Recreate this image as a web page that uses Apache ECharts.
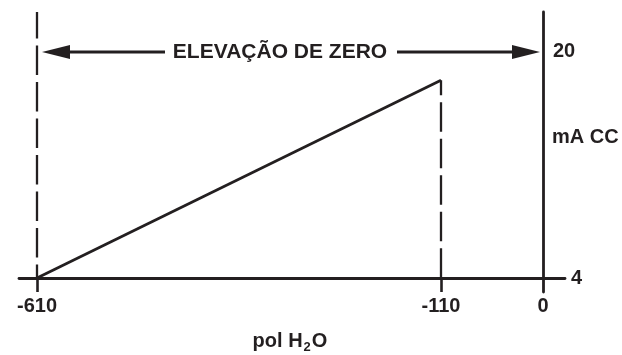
<!DOCTYPE html>
<html>
<head>
<meta charset="utf-8">
<script src="https://cdn.jsdelivr.net/npm/echarts@6/dist/echarts.min.js"></script>
<style>html,body{margin:0;padding:0;background:#fff;}#c{width:622px;height:355px;}</style>
</head>
<body>
<div id="c"></div>
<script>
// Data
const rampX = [-610, -110];        // pol H2O
const rampY = [4, 18];             // mA CC
const xLabelsLeft = [-610, -110];
const xLabelsRight = [0];
const yTicks = [4, 20];
const titleText = 'ELEVAÇÃO DE ZERO';
const yName = 'mA CC';

const INK = '#231f20';
const FONT = 'Liberation Sans, Arial, sans-serif';
const chart = echarts.init(document.getElementById('c'), null, {renderer: 'canvas'});

// y range: 4 sits on the x axis; a little room below it for the tick stubs
const yBase = 4, yMin = 3.009, yMax = 22.83;
const labelStyle = {color: INK, fontSize: 20, fontWeight: 'bold', fontFamily: FONT};
const dashStyle = {color: INK, width: 2.3, type: [29.5, 7]};
const tickStyle = {color: INK, width: 2.6, type: 'solid'};

const option = {
  animation: false,
  backgroundColor: '#fff',
  grid: [
    {left: 19, top: 12, width: 422, height: 280},
    {left: 441, top: 12, width: 124, height: 280}
  ],
  xAxis: [
    {
      gridIndex: 0, type: 'value', min: -632.28, max: -110, offset: -14,
      axisLine: {show: true, onZero: false, lineStyle: {color: INK, width: 2.8}},
      axisTick: {show: false},
      axisLabel: Object.assign({customValues: xLabelsLeft, margin: 18}, labelStyle),
      splitLine: {show: false}
    },
    {
      gridIndex: 1, type: 'value', min: -110, max: 23.73, offset: -14,
      axisLine: {show: true, onZero: false, lineStyle: {color: INK, width: 2.8}},
      axisTick: {show: false},
      axisLabel: Object.assign({customValues: xLabelsRight, margin: 18}, labelStyle),
      splitLine: {show: false}
    }
  ],
  yAxis: [
    {gridIndex: 0, type: 'value', min: yMin, max: yMax, show: false},
    {
      gridIndex: 1, type: 'value', min: yMin, max: yMax, position: 'right',
      axisLine: {show: true, onZero: true, lineStyle: {color: INK, width: 2.8}},
      axisTick: {show: false},
      splitLine: {show: false},
      axisLabel: {
        customValues: yTicks, margin: -12,
        formatter: v => v === 4 ? '{a|4}' : '{b|' + v + '}',
        rich: {
          a: Object.assign({padding: [0, 0, 0, 18]}, labelStyle),
          b: Object.assign({}, labelStyle)
        }
      }
    }
  ],
  series: [
    {
      type: 'line', xAxisIndex: 0, yAxisIndex: 0, clip: false,
      data: rampX.map((x, i) => [x, rampY[i]]),
      showSymbol: false, symbol: 'none',
      lineStyle: {color: INK, width: 2.8},
      markLine: {
        silent: true, symbol: ['none', 'none'],
        label: {show: false},
        data: [
          [{coord: [rampX[0], yMax], lineStyle: Object.assign({dashOffset: 3}, dashStyle)}, {coord: [rampX[0], yBase]}],
          [{coord: [rampX[1], rampY[1]], lineStyle: Object.assign({dashOffset: 14.5}, dashStyle)}, {coord: [rampX[1], yBase]}],
          [{coord: [rampX[0], yBase], lineStyle: tickStyle}, {coord: [rampX[0], yMin]}],
          [{coord: [rampX[1], yBase], lineStyle: tickStyle}, {coord: [rampX[1], yMin]}]
        ]
      }
    }
  ],
  graphic: [
    // arrow: left part
    {type: 'line', shape: {x1: 60, y1: 52, x2: 165, y2: 52}, style: {stroke: INK, lineWidth: 3}},
    {type: 'polygon', shape: {points: [[42, 52], [70, 45], [70, 59]]}, style: {fill: INK}},
    // arrow: right part
    {type: 'line', shape: {x1: 397, y1: 52, x2: 522, y2: 52}, style: {stroke: INK, lineWidth: 3}},
    {type: 'polygon', shape: {points: [[540, 52], [512, 45], [512, 59]]}, style: {fill: INK}},
    {type: 'text', x: 280, y: 52, style: {text: titleText, align: 'center', verticalAlign: 'middle', fill: INK, font: 'bold 21px ' + FONT}},
    {type: 'text', x: 552, y: 137, style: {text: yName, align: 'left', verticalAlign: 'middle', fill: INK, font: 'bold 20px ' + FONT}},
    {type: 'text', x: 290, y: 341, style: {
      text: 'pol H{s|2}O', align: 'center', verticalAlign: 'middle', fill: INK, font: 'bold 20px ' + FONT,
      rich: {s: {fontSize: 13, fontWeight: 'bold', fontFamily: FONT, fill: INK, padding: [12, 1, 0, 1]}}
    }}
  ]
};
chart.setOption(option);
</script>
</body>
</html>
